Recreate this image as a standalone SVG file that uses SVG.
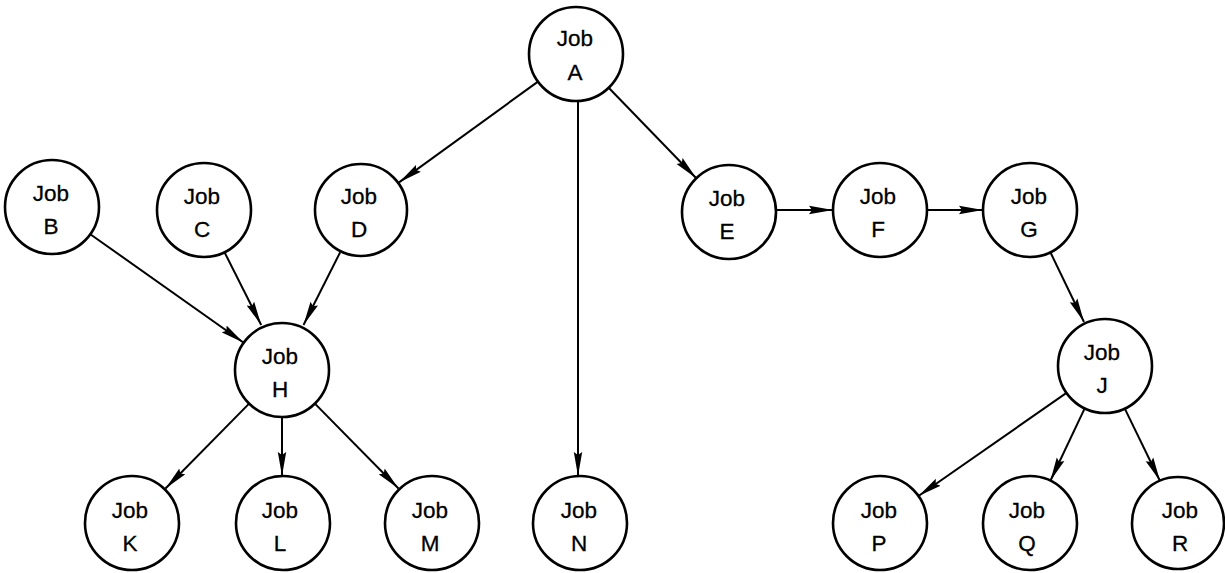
<svg xmlns="http://www.w3.org/2000/svg" width="1225" height="573" viewBox="0 0 1225 573">
<style>
.node circle{fill:#fff;stroke:#000;stroke-width:2.6}
.node text{font-family:"Liberation Sans",Arial,sans-serif;font-size:22.5px;fill:#000;text-anchor:middle;stroke:#000;stroke-width:0.3}
.edges line{stroke:#000;stroke-width:2;marker-end:url(#ah)}
</style>
<defs>
<marker id="ah" viewBox="0 0 24 10" refX="24" refY="5" markerWidth="24" markerHeight="10" markerUnits="userSpaceOnUse" orient="auto">
<path d="M0,0.8 L24,5 L0,9.2 L3,5 z" fill="#000"/>
</marker>
</defs>
<rect width="1225" height="573" fill="#fff"/>
<g class="edges" id="connectors">
<line x1="538" y1="81.6" x2="399" y2="182.4"/>
<line x1="578" y1="101" x2="578" y2="476"/>
<line x1="608.7" y1="87.8" x2="696.3" y2="178.2"/>
<line x1="90.3" y1="234.2" x2="243.7" y2="342.8"/>
<line x1="224.5" y1="252.2" x2="261.2" y2="325"/>
<line x1="340.2" y1="252.2" x2="303.5" y2="325"/>
<line x1="776" y1="210" x2="833" y2="210"/>
<line x1="927" y1="210" x2="983" y2="210"/>
<line x1="1050.4" y1="252.3" x2="1084" y2="322"/>
<line x1="249.1" y1="403.6" x2="165.5" y2="488.5"/>
<line x1="282" y1="417" x2="282" y2="476"/>
<line x1="314.9" y1="403.6" x2="398.5" y2="488.5"/>
<line x1="1066.5" y1="392.9" x2="918.5" y2="496"/>
<line x1="1084.7" y1="408.4" x2="1050.3" y2="481"/>
<line x1="1124.8" y1="408.6" x2="1160" y2="481"/>
</g>
<g class="node" id="job-a"><circle cx="576" cy="54" r="47"/><text x="575" y="46">Job</text><text x="575" y="80">A</text></g>
<g class="node" id="job-b"><circle cx="52" cy="207" r="47"/><text x="51" y="201">Job</text><text x="51" y="234">B</text></g>
<g class="node" id="job-c"><circle cx="204" cy="210" r="47"/><text x="202" y="204">Job</text><text x="202" y="237">C</text></g>
<g class="node" id="job-d"><circle cx="361" cy="210" r="46"/><text x="359" y="204">Job</text><text x="359" y="237">D</text></g>
<g class="node" id="job-e"><circle cx="729" cy="212" r="47"/><text x="727" y="206">Job</text><text x="727" y="239">E</text></g>
<g class="node" id="job-f"><circle cx="880" cy="210" r="47"/><text x="878" y="204">Job</text><text x="878" y="237">F</text></g>
<g class="node" id="job-g"><circle cx="1030" cy="210" r="47"/><text x="1029" y="204">Job</text><text x="1029" y="237">G</text></g>
<g class="node" id="job-h"><circle cx="282" cy="370" r="47"/><text x="280" y="364">Job</text><text x="280" y="397">H</text></g>
<g class="node" id="job-j"><circle cx="1105" cy="366" r="47"/><text x="1102" y="360">Job</text><text x="1102" y="393">J</text></g>
<g class="node" id="job-k"><circle cx="132" cy="523" r="47"/><text x="130" y="518">Job</text><text x="130" y="551">K</text></g>
<g class="node" id="job-l"><circle cx="283" cy="523" r="47"/><text x="280" y="518">Job</text><text x="280" y="551">L</text></g>
<g class="node" id="job-m"><circle cx="432" cy="523" r="47"/><text x="430" y="518">Job</text><text x="430" y="551">M</text></g>
<g class="node" id="job-n"><circle cx="580" cy="523" r="47"/><text x="579" y="518">Job</text><text x="579" y="551">N</text></g>
<g class="node" id="job-p"><circle cx="880" cy="523" r="47"/><text x="879" y="518">Job</text><text x="879" y="551">P</text></g>
<g class="node" id="job-q"><circle cx="1030" cy="523" r="47"/><text x="1027" y="518">Job</text><text x="1027" y="551">Q</text></g>
<g class="node" id="job-r"><circle cx="1178" cy="523" r="46"/><text x="1180" y="518">Job</text><text x="1180" y="551">R</text></g>
</svg>
